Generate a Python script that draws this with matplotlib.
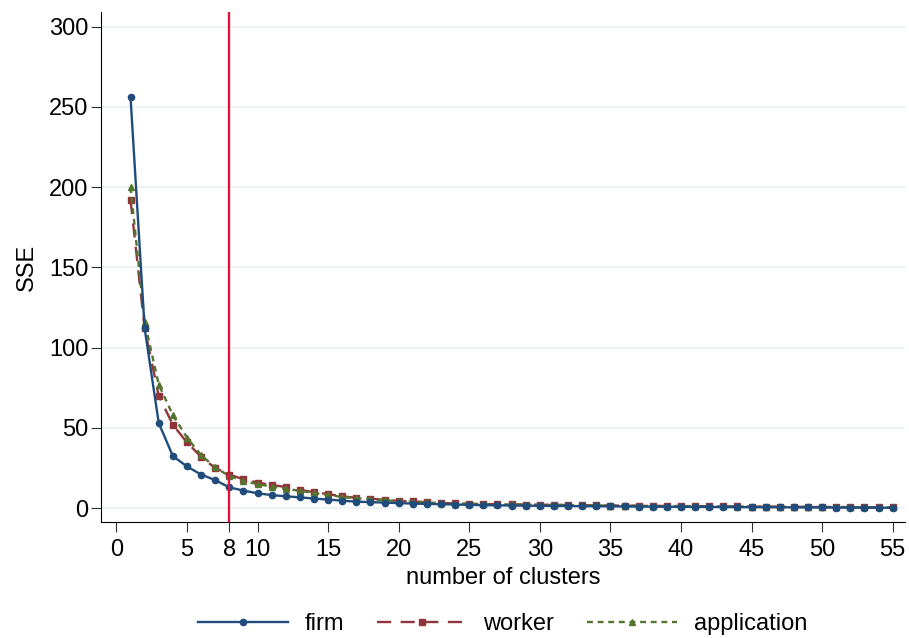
import matplotlib
matplotlib.use("Agg")
import matplotlib.pyplot as plt

plt.rcParams['font.family'] = ['Liberation Sans', 'DejaVu Sans']

k = list(range(1, 56))

firm = [256, 112, 53, 32.5, 26, 21, 17.5, 13, 11, 9.3,
        8.2, 7.4, 6.8, 6.0, 5.4, 4.7, 4.1, 3.8, 3.5, 3.2,
        2.9, 2.7, 2.5, 2.3, 2.1, 1.9,
        1.8, 1.7, 1.6, 1.5, 1.45, 1.4, 1.3, 1.25, 1.2, 1.1,
        1.05, 1.0, 0.95, 0.9, 0.85, 0.8, 0.75, 0.7, 0.68, 0.65,
        0.6, 0.55, 0.5, 0.48, 0.45, 0.4, 0.36, 0.32, 0.3]

worker = [192, 112, 70, 52, 41, 32, 25, 21, 18, 16,
          14.5, 13.2, 11.5, 10, 8.8, 7.4, 6.5, 6.0, 5.2, 4.6,
          4.2, 3.8, 3.3, 3.0, 2.8, 2.6,
          2.5, 2.4, 2.3, 2.2, 2.1, 2.0, 1.9, 1.8, 1.7, 1.6,
          1.55, 1.5, 1.4, 1.35, 1.3, 1.2, 1.15, 1.1, 1.05, 1.0,
          0.95, 0.9, 0.85, 0.8, 0.75, 0.7, 0.65, 0.6, 0.55]

application = [200, 116, 77, 58, 44, 33, 25.5, 20, 17, 15,
               13.5, 12.2, 10.8, 9.5, 8.3, 7.0, 6.2, 5.6, 5.0, 4.4,
               4.0, 3.6, 3.2, 2.9, 2.7, 2.55,
               2.45, 2.35, 2.25, 2.15, 2.05, 1.95, 1.85, 1.75, 1.65, 1.6,
               1.5, 1.45, 1.4, 1.3, 1.25, 1.2, 1.1, 1.05, 1.0, 0.95,
               0.9, 0.85, 0.8, 0.75, 0.7, 0.65, 0.6, 0.55, 0.5]

chosen_k = 8
xticks = [0, 5, 8, 10, 15, 20, 25, 30, 35, 40, 45, 50, 55]
yticks = [0, 50, 100, 150, 200, 250, 300]

fig = plt.figure(figsize=(9.09, 6.38), dpi=100)
ax = fig.add_axes([0.111, 0.182, 0.885, 0.799])

for y in yticks:
    ax.axhline(y, color='#eaf2f3', lw=1.3, zorder=0)

ax.plot(k, firm, color='#1f4c7a', lw=1.7, marker='o', ms=4.5, label='firm', zorder=3)
ax.plot(k, worker, color='#90353b', lw=1.7, ls=(0, (6, 4)), marker='s', ms=4.5,
        label='worker', zorder=2)
ax.plot(k, application, color='#55752f', lw=1.7, ls=(0, (2.5, 2)), marker='^', ms=5,
        label='application', zorder=2)
ax.axvline(chosen_k, color='#dc143c', lw=1.7, zorder=4)

ax.set_xlim(-1.1, 55.9)
ax.set_ylim(-8.5, 309)
ax.set_xticks(xticks)
ax.set_yticks(yticks)
ax.tick_params(labelsize=17, length=7, color='#333333')
ax.tick_params(axis='x', pad=5)
ax.tick_params(axis='y', pad=2)
ax.spines['top'].set_visible(False)
ax.spines['right'].set_visible(False)
ax.set_xlabel('number of clusters', fontsize=17, labelpad=5)
ax.set_ylabel('SSE', fontsize=17, labelpad=8)

fig.legend(loc='center', ncol=3, frameon=False, fontsize=17,
           handlelength=3.8, handletextpad=0.7, columnspacing=1.4,
           bbox_to_anchor=(0.553, 0.022))

fig.savefig('out.png', dpi=100)
